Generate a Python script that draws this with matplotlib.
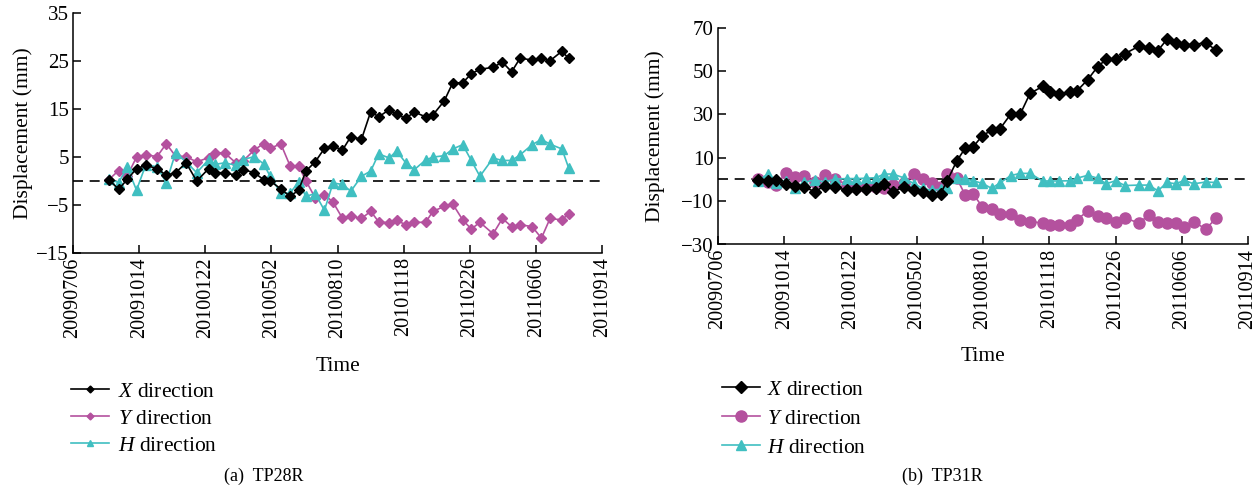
import matplotlib
matplotlib.use("Agg")
import matplotlib.pyplot as plt
from matplotlib.lines import Line2D

plt.rcParams['font.family'] = ['Liberation Serif', 'DejaVu Serif']
plt.rcParams['mathtext.fontset'] = 'custom'
plt.rcParams['mathtext.rm'] = 'Liberation Serif'
plt.rcParams['mathtext.it'] = 'Liberation Serif:italic'

# ---- data -------------------------------------------------------------
tick_days = [0, 100, 200, 300, 400, 500, 600, 700, 800]
tick_labels = ["20090706", "20091014", "20100122", "20100502", "20100810",
               "20101118", "20110226", "20110606", "20110914"]

# (a) TP28R  - days since 2009-07-06
days_a = [54, 69, 82, 96, 110, 127, 141, 155, 171, 187, 205, 215, 229, 247,
          257, 274, 288, 298, 314, 328, 341, 352, 366, 380, 393, 407, 420,
          436, 450, 462, 478, 489, 503, 516, 533, 544, 561, 574, 589, 602,
          615, 635, 649, 663, 676, 694, 708, 721, 739, 749]
x_a = [0.3, -1.7, 0.35, 2.6, 3.3, 2.6, 1.2, 1.75, 3.8, 0.0, 2.6, 1.75, 1.75,
       1.2, 2.4, 1.75, 0.3, 0.0, -1.6, -3.2, -1.9, 2.1, 4.0, 6.8, 7.4, 6.4,
       9.3, 8.7, 14.5, 13.4, 14.9, 13.9, 13.1, 14.4, 13.4, 13.8, 16.7, 20.5,
       20.5, 22.4, 23.3, 23.75, 24.8, 22.8, 25.7, 25.2, 25.6, 25.1, 27.1,
       25.6]
y_a = [0.3, 2.2, 1.1, 5.0, 5.5, 5.1, 7.8, 5.2, 5.1, 4.0, 4.9, 5.9, 5.9, 3.7,
       4.2, 6.5, 7.8, 6.8, 7.8, 3.2, 3.1, 0.1, -3.5, -2.8, -4.4, -7.7, -7.3,
       -7.8, -6.3, -8.5, -8.7, -8.2, -9.1, -8.6, -8.6, -6.3, -5.3, -4.8,
       -8.1, -10.0, -8.6, -11.0, -7.8, -9.5, -9.1, -9.5, -11.9, -7.8, -8.1,
       -6.8]
h_a = [0.4, -0.3, 2.9, -1.9, 3.4, 3.0, -0.3, 5.9, 4.0, 1.75, 4.5, 3.5, 3.8,
       3.3, 4.5, 5.1, 3.6, 1.0, -2.5, -2.5, -0.2, -3.2, -2.6, -6.1, -0.4,
       -0.7, -2.1, 1.0, 2.1, 5.7, 4.8, 6.3, 3.8, 2.4, 4.4, 5.0, 5.3, 6.7,
       7.6, 4.3, 1.0, 4.8, 4.3, 4.3, 5.5, 7.6, 8.7, 7.7, 6.7, 2.8]

# (b) TP31R
days_b = [61, 75, 88, 102, 116, 130, 146, 161, 177, 195, 209, 224, 238, 251,
          264, 280, 296, 309, 323, 336, 346, 360, 373, 385, 399, 413, 426,
          442, 456, 471, 490, 501, 515, 531, 542, 558, 573, 586, 600, 614,
          635, 650, 664, 678, 691, 704, 718, 736, 752]
x_b = [-0.3, -0.5, -0.1, -2.0, -2.9, -3.4, -5.7, -2.9, -3.7, -5.0, -4.6,
       -4.4, -4.0, -2.0, -5.7, -3.5, -5.0, -5.8, -7.2, -6.5, -0.6, 8.3, 14.4,
       15.0, 20.2, 22.7, 23.5, 30.2, 30.0, 39.7, 42.9, 40.3, 39.2, 40.4, 40.9,
       46.0, 52.0, 55.4, 55.4, 58.0, 61.4, 60.5, 59.4, 64.8, 63.1, 62.2, 62.2,
       63.1, 59.6]
y_b = [0.2, -1.1, -2.6, 2.8, 1.2, 1.7, -1.4, 1.9, 0.2, -2.5, -3.4, -3.4,
       -3.6, -3.8, -2.5, -1.8, 2.6, 0.2, -1.8, -3.5, 2.5, 0.8, -7.1, -6.7,
       -12.6, -13.8, -15.8, -16.0, -18.7, -19.4, -20.1, -21.0, -21.0, -21.0,
       -18.6, -14.5, -16.8, -17.7, -19.4, -17.7, -20.1, -16.6, -19.4, -20.1,
       -20.1, -21.9, -19.4, -22.9, -17.9]
h_b = [-0.5, 2.5, -1.8, -0.6, -3.8, -1.4, -0.2, -1.2, 0.2, 0.4, 0.4, 0.6,
       0.8, 2.5, 2.5, 0.8, -2.0, -4.1, -5.0, -4.4, -3.8, 0.5, 0.3, -0.6,
       -1.8, -4.1, -1.5, 1.8, 2.8, 2.8, -0.7, -0.7, -0.7, -0.6, 0.6, 1.9,
       0.6, -2.0, -0.6, -2.8, -2.6, -2.6, -5.2, -1.4, -2.0, -0.4, -2.0, -1.2,
       -1.4]

series_names = ["$X$ direction", "$Y$ direction", "$H$ direction"]
c_black = "#000000"
c_mag = "#b4519e"
c_cyan = "#40bfc1"

fig = plt.figure(figsize=(12.6, 4.9), dpi=100)


def style_axis(ax, ylim, yticks, xlab_pad, ylab_pad):
    ax.set_xlim(0, 800)
    ax.set_ylim(*ylim)
    ax.set_yticks(yticks)
    ax.set_xticks(tick_days)
    ax.set_xticklabels(tick_labels, rotation=90, fontsize=14.5)
    ax.tick_params(axis='y', labelsize=15)
    ax.tick_params(direction='in', length=6, width=1.1, pad=3)
    for s in ['top', 'right']:
        ax.spines[s].set_visible(False)
    for s in ['left', 'bottom']:
        ax.spines[s].set_linewidth(1.1)
    ax.axhline(0, color='black', lw=1.2, ls=(0, (6, 4)), zorder=1)
    ax.set_ylabel("Displacement (mm)", fontsize=15.5, labelpad=ylab_pad)
    ax.set_xlabel("Time", fontsize=15.5, labelpad=xlab_pad)


# ---- (a) ----
ax1 = fig.add_axes([73 / 1260, 1 - 253 / 490, (602.3 - 73) / 1260, (253 - 13.3) / 490])
style_axis(ax1, (-15, 35), [-15, -5, 5, 15, 25, 35], 14, 2)
ax1.plot(days_a, x_a, color=c_black, marker='D', ms=5, lw=1.2, zorder=4)
ax1.plot(days_a, y_a, color=c_mag, marker='D', ms=5, lw=1.2, zorder=2)
ax1.plot(days_a, h_a, color=c_cyan, marker='^', ms=6.5, lw=1.2, zorder=3)

# ---- (b) ----
ax2 = fig.add_axes([718 / 1260, 1 - 244.5 / 490, (1248 - 718) / 1260, (244.5 - 27.7) / 490])
style_axis(ax2, (-30, 70), [-30, -10, 10, 30, 50, 70], 13, 11.5)
ax2.plot(days_b, x_b, color=c_black, marker='D', ms=6, lw=1.2, zorder=4)
ax2.plot(days_b, y_b, color=c_mag, marker='o', ms=8, lw=1.2, zorder=2)
ax2.plot(days_b, h_b, color=c_cyan, marker='^', ms=7, lw=1.2, zorder=3)

# ---- legends ----
h_a_leg = [Line2D([], [], color=c_black, marker='D', ms=3.5, lw=1.2),
           Line2D([], [], color=c_mag, marker='D', ms=3.5, lw=1.2),
           Line2D([], [], color=c_cyan, marker='^', ms=4.5, lw=1.2)]
h_b_leg = [Line2D([], [], color=c_black, marker='D', ms=6, lw=1.2),
           Line2D([], [], color=c_mag, marker='o', ms=8, lw=1.2),
           Line2D([], [], color=c_cyan, marker='^', ms=7, lw=1.2)]
fig.legend(h_a_leg, series_names, loc='upper left',
           bbox_to_anchor=(65 / 1260, 1 - 375 / 490), frameon=False,
           fontsize=15.5, handlelength=1.75, labelspacing=0.33, handletextpad=0.4,
           borderaxespad=0, borderpad=0.3)
fig.legend(h_b_leg, series_names, loc='upper left',
           bbox_to_anchor=(716 / 1260, 1 - 373 / 490), frameon=False,
           fontsize=15.5, handlelength=1.75, labelspacing=0.42, handletextpad=0.3,
           borderaxespad=0, borderpad=0.3)

fig.text(264 / 1260, 1 - 476 / 490, "(a)  TP28R", ha='center', va='center', fontsize=13)
fig.text(942 / 1260, 1 - 476 / 490, "(b)  TP31R", ha='center', va='center', fontsize=13)

fig.savefig("out.png", dpi=100)
